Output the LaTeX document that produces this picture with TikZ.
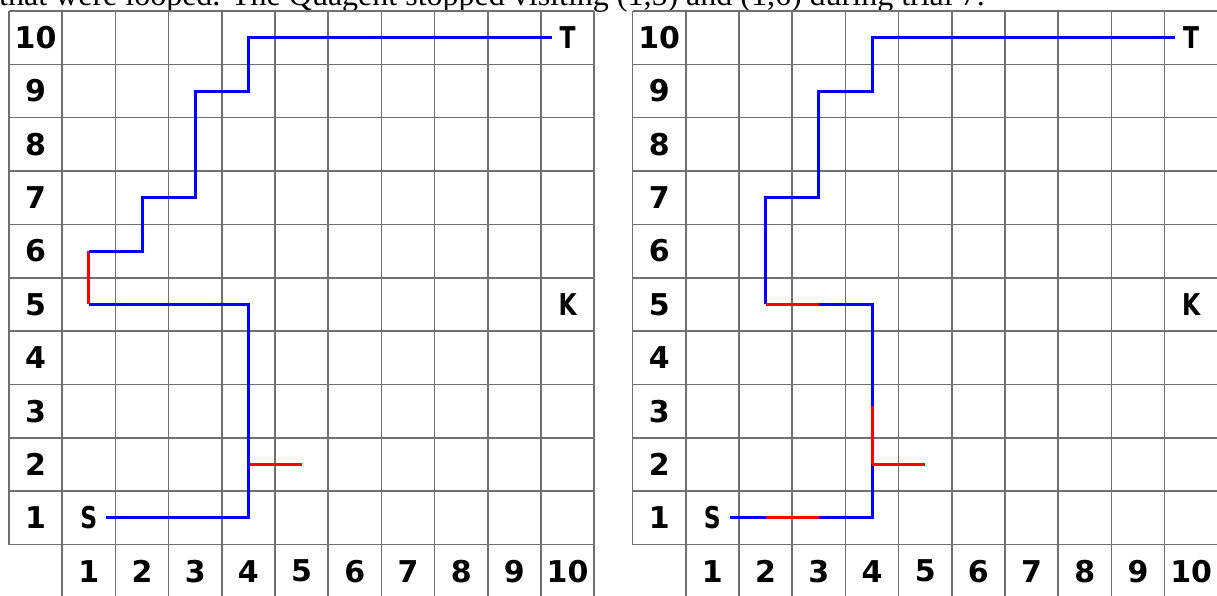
\documentclass[tikz,border=0pt]{standalone}
\usepackage{fontspec}
\setmainfont{Liberation Serif}
\newfontfamily\labfont{DejaVu Sans}
\newfontfamily\stkfont{DejaVu Sans}[FakeStretch=0.78]
\definecolor{gridgray}{RGB}{112,112,112}
\definecolor{pathblue}{RGB}{0,0,255}
\definecolor{pathred}{RGB}{255,0,0}
\tikzset{
  gridline/.style={draw=gridgray, line width=1.6pt},
  bluepath/.style={draw=pathblue, line width=3pt, line join=miter},
  redpath/.style={draw=pathred, line width=3pt},
  axislabel/.style={font=\labfont\bfseries\fontsize{30}{30}\selectfont, inner sep=0pt},
  marklabel/.style={font=\stkfont\bfseries\fontsize{30}{30}\selectfont, inner sep=0pt},
  headertext/.style={font=\fontsize{32}{32}\selectfont, inner sep=0pt, anchor=base west}
}
\newcommand\cellpt[3]{\coordinate (#1) at ({#2+0.5},{10.5-#3});}
\newcommand\gridframe{%
  \foreach \r in {0,...,10} {\draw[gridline] (0,\r) -- (11,\r);}
  \draw[gridline] (0,0) -- (0,10);
  \foreach \c in {1,...,11} {\draw[gridline] (\c,0) -- (\c,11.2);}
}
\begin{document}
\begin{tikzpicture}[x=1pt,y=1pt]
\useasboundingbox (0,0) rectangle (1217,-596);
\clip (0,0) rectangle (1217,-596);
\fill[white] (0,0) rectangle (1217,-596);
\node[headertext] (header) at (-1,-6) {that were looped. The Quagent stopped visiting (1,5) and (1,6) during trial 7.};

% ---------------- left grid ----------------
\begin{scope}[shift={(9pt,-11pt)}, x=53.2pt, y=-53.35pt]
  \gridframe
  \foreach \j in {1,...,10} {\node[axislabel] (Lrow\j) at (0.5,{10.5-\j}) {\j};}
  \foreach \i in {1,...,10} {\node[axislabel] (Lcol\i) at ({\i+0.5},10.5) {\i};}
  \node[marklabel] (LS) at (1.5,9.5) {S};
  \node[marklabel] (LT) at (10.5,0.5) {T};
  \node[marklabel] (LK) at (10.5,5.5) {K};
  \coordinate (Lstart) at (1.83,9.5);
  \coordinate (Lend) at (10.2,0.5);
  \cellpt{L41}{4}{1}\cellpt{L42}{4}{2}\cellpt{L52}{5}{2}\cellpt{L45}{4}{5}
  \cellpt{L15}{1}{5}\cellpt{L16}{1}{6}\cellpt{L26}{2}{6}\cellpt{L27}{2}{7}
  \cellpt{L37}{3}{7}\cellpt{L39}{3}{9}\cellpt{L49}{4}{9}\cellpt{L410}{4}{10}
  \draw[redpath] (L42) -- (L52);
  \draw[redpath] (L15) -- (L16);
  \draw[bluepath] (Lstart) -- (L41) -- (L45) -- (L15);
  \draw[bluepath] (L16) -- (L26) -- (L27) -- (L37) -- (L39) -- (L49) -- (L410) -- (Lend);
\end{scope}

% ---------------- right grid ----------------
\begin{scope}[shift={(632.6pt,-11pt)}, x=53.2pt, y=-53.35pt]
  \gridframe
  \foreach \j in {1,...,10} {\node[axislabel] (Rrow\j) at (0.5,{10.5-\j}) {\j};}
  \foreach \i in {1,...,10} {\node[axislabel] (Rcol\i) at ({\i+0.5},10.5) {\i};}
  \node[marklabel] (RS) at (1.5,9.5) {S};
  \node[marklabel] (RT) at (10.5,0.5) {T};
  \node[marklabel] (RK) at (10.5,5.5) {K};
  \coordinate (Rstart) at (1.83,9.5);
  \coordinate (Rend) at (10.2,0.5);
  \cellpt{R21}{2}{1}\cellpt{R31}{3}{1}\cellpt{R41}{4}{1}\cellpt{R42}{4}{2}
  \cellpt{R52}{5}{2}\cellpt{R43}{4}{3.1}\cellpt{R45}{4}{5}\cellpt{R35}{3}{5}
  \cellpt{R25}{2}{5}\cellpt{R27}{2}{7}\cellpt{R37}{3}{7}\cellpt{R39}{3}{9}
  \cellpt{R49}{4}{9}\cellpt{R410}{4}{10}
  \draw[bluepath] (Rstart) -- (R21);
  \draw[bluepath] (R31) -- (R41) -- (R42);
  \draw[bluepath] (R43) -- (R45) -- (R35);
  \draw[bluepath] (R25) -- (R27) -- (R37) -- (R39) -- (R49) -- (R410) -- (Rend);
  \draw[redpath] (R21) -- (R31);
  \draw[redpath] (R42) -- (R52);
  \draw[redpath] (R42) -- (R43);
  \draw[redpath] (R35) -- (R25);
\end{scope}
\end{tikzpicture}
\end{document}
